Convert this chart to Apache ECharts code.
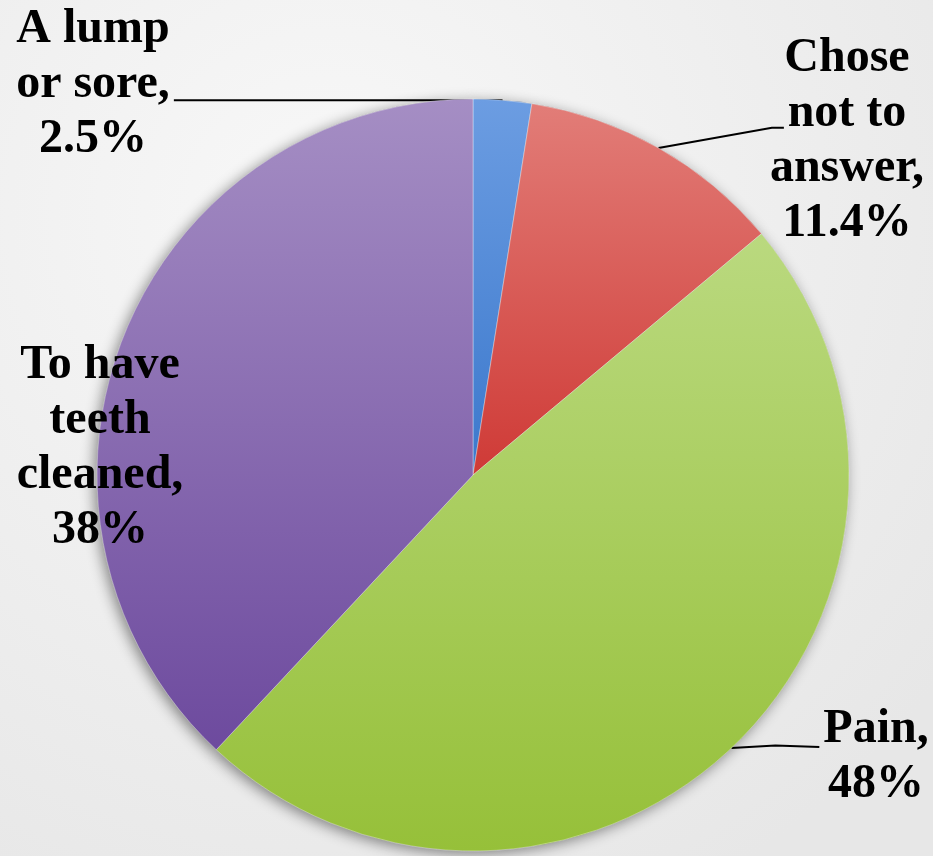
<!DOCTYPE html>
<html>
<head>
<meta charset="utf-8">
<script src="https://cdn.jsdelivr.net/npm/echarts@6/dist/echarts.min.js"></script>
<style>html,body{margin:0;padding:0;}#chart{width:933px;height:856px;}</style>
</head>
<body>
<div id="chart"></div>
<script>
const categories = ['A lump or sore', 'Chose not to answer', 'Pain', 'To have teeth cleaned'];
const wrappedNames = ['A lump\nor sore,', 'Chose\nnot to\nanswer,', 'Pain,', 'To have\nteeth\ncleaned,'];
const values = [2.5, 11.4, 48, 38];

const sliceColors = [
  ['#6c9de2', '#3b78cc'],
  ['#e27d78', '#cf3a36'],
  ['#bad97f', '#96c039'],
  ['#a58ec4', '#6d4a9e']
];
const labelSpots = [[93, 85], [847, 141], [876, 757], [100, 448]];

function grad(c) {
  return new echarts.graphic.LinearGradient(0, 0, 0, 1, [
    { offset: 0, color: c[0] }, { offset: 1, color: c[1] }
  ]);
}

const data = categories.map((n, i) => ({
  name: n,
  value: values[i],
  itemStyle: { color: grad(sliceColors[i]) },
  labelLine: { show: i !== 3 }
}));
const shadowData = categories.map((n, i) => ({ name: n, value: values[i] }));

const chart = echarts.init(document.getElementById('chart'));
chart.setOption({
  animation: false,
  backgroundColor: {
    type: 'radial', x: 0.35, y: 0.25, r: 0.9,
    colorStops: [{ offset: 0, color: '#f8f8f8' }, { offset: 1, color: '#e7e7e7' }]
  },
  series: [
    {
      type: 'pie', silent: true, z: 1,
      center: [473, 475], radius: 376, startAngle: 90, clockwise: true,
      label: { show: false }, labelLine: { show: false },
      itemStyle: { color: '#888', shadowBlur: 14, shadowColor: 'rgba(0,0,0,0.45)', shadowOffsetX: -3, shadowOffsetY: 3 },
      data: shadowData
    },
    {
      type: 'pie', z: 2,
      center: [473, 475], radius: 376, startAngle: 90, clockwise: true,
      avoidLabelOverlap: false,
      itemStyle: { borderColor: 'rgba(255,255,255,0.35)', borderWidth: 1 },
      label: {
        show: true, position: 'outside',
        fontFamily: 'Liberation Serif', fontWeight: 'bold', fontSize: 48, lineHeight: 55,
        color: '#000', align: 'center',
        formatter: p => wrappedNames[p.dataIndex] + '\n' + p.value + '%'
      },
      labelLine: { show: true, lineStyle: { color: '#000', width: 2 } },
      labelLayout: function (p) {
        const s = labelSpots[p.dataIndex];
        const w = p.labelRect.width, h = p.labelRect.height;
        const r = { x: s[0] - w / 2, y: s[1] - h / 2, width: w, height: h };
        const out = { x: s[0], y: s[1], align: 'center', verticalAlign: 'middle' };
        const pts = p.labelLinePoints;
        if (pts && p.dataIndex !== 3) {
          const a = pts[0];
          let end, mid;
          if (p.dataIndex === 0) {
            end = [r.x + r.width + 4, a[1]];
            mid = [(a[0] + end[0]) / 2, a[1]];
          } else if (p.dataIndex === 1) {
            end = [r.x + 14, r.y + r.height * 0.44];
            mid = [end[0] - 12, end[1]];
          } else {
            end = [r.x - 4, r.y + r.height * 0.41];
            mid = [(a[0] + end[0]) / 2, (a[1] + end[1]) / 2 - 2];
          }
          out.labelLinePoints = [a, mid, end];
        }
        return out;
      },
      data: data
    }
  ]
});
</script>
</body>
</html>
